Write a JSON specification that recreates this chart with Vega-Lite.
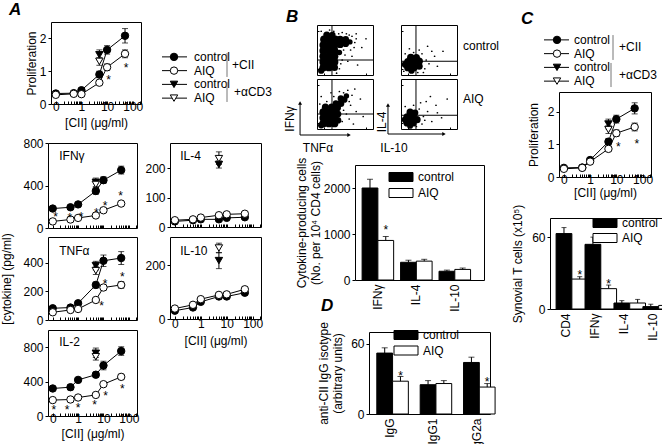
{
"$schema":"https://vega.github.io/schema/vega-lite/v6.json",
"background":"white","padding":0,"autosize":{"type":"pad"},
"data":{"values":[]},
"config":{
 "view":{"stroke":null},
 "font":"Liberation Sans",
 "axis":{"grid":false,"domain":false,"tickColor":"black","tickSize":3,"labelColor":"black","labelFontSize":12,"labelPadding":2,"labelFlush":false,"labelOverlap":false,"titleColor":"black","titleFontSize":12,"titleFontWeight":"normal","titleLineHeight":14},
 "title":{"fontSize":17,"fontWeight":"bold","fontStyle":"italic","anchor":"start","frame":"group","color":"black","baseline":"alphabetic"},
 "text":{"fontSize":12,"color":"black","baseline":"middle"},
 "legend":{"labelFontSize":12,"labelColor":"black"}
},
"resolve":{"scale":{"fill":"independent","shape":"independent","size":"independent"}},
"spacing":0,"bounds":"flush",
"hconcat":[
{"width":44,"height":1,"mark":"point","view":{"fill":"white"}},
{"spacing":0,"bounds":"flush","vconcat":[
{"width":1,"height":138,"mark":"point"},
{"width":89,"height":85,"view":{"stroke":"black"},
"data":{"values":[{"d":0.1,"g":"cc","v":183},{"d":0.5,"g":"cc","v":195},{"d":1,"g":"cc","v":222},{"d":5,"g":"cc","v":348,"lo":318,"hi":378},{"d":10,"g":"cc","v":450,"lo":420,"hi":482},{"d":50,"g":"cc","v":545,"lo":508,"hi":582},{"d":0.1,"g":"ca","v":62},{"d":0.5,"g":"ca","v":80},{"d":1,"g":"ca","v":95},{"d":5,"g":"ca","v":118},{"d":10,"g":"ca","v":167},{"d":50,"g":"ca","v":230,"lo":215,"hi":245},{"d":5,"g":"tc","v":430,"lo":390,"hi":470},{"d":5,"g":"ta","v":410,"lo":375,"hi":445},{"d":0.13,"sy":130},{"d":0.47,"sy":125},{"d":1.3,"sy":130},{"d":5.2,"sy":165},{"d":11.7,"sy":232},{"d":47.5,"sy":325},{"d":0.18,"ly":680,"lab":"IFNγ"}]},
"encoding":{"x":{"field":"d","type":"quantitative","scale":{"type":"log","domain":[0.065,210],"nice":false},"axis":{"values":[0.1,0.2,0.3,0.4,0.5,0.6,0.7,0.8,0.9,1,2,3,4,5,6,7,8,9,10,20,30,40,50,60,70,80,90,100,200],"labels":false,"tickSize":-3,"title":null}}},
"layer":[
{"transform":[{"filter":"isValid(datum.hi)"}],"mark":{"type":"rule","color":"black"},"encoding":{"y":{"field":"lo","type":"quantitative","scale":{"domain":[0,800],"nice":false},"axis":{"values":[0,200,400,600,800],"title":null}},"y2":{"field":"hi"}}},
{"transform":[{"filter":"isValid(datum.hi)"}],"mark":{"type":"tick","orient":"horizontal","size":6,"thickness":1,"color":"black"},"encoding":{"y":{"field":"hi","type":"quantitative","scale":{"domain":[0,800],"nice":false}}}},
{"transform":[{"filter":"isValid(datum.hi)"}],"mark":{"type":"tick","orient":"horizontal","size":6,"thickness":1,"color":"black"},"encoding":{"y":{"field":"lo","type":"quantitative","scale":{"domain":[0,800],"nice":false}}}},
{"transform":[{"filter":"datum.g=='cc'||datum.g=='ca'"}],"mark":{"type":"line","color":"black","strokeWidth":1},"encoding":{"y":{"field":"v","type":"quantitative","scale":{"domain":[0,800],"nice":false}},"detail":{"field":"g"}}},
{"transform":[{"filter":"isValid(datum.v)"}],"mark":{"type":"point","filled":true,"size":55,"stroke":"black","strokeWidth":1,"opacity":1},"encoding":{"y":{"field":"v","type":"quantitative","scale":{"domain":[0,800],"nice":false}},"shape":{"field":"g","type":"nominal","scale":{"domain":["cc","ca","tc","ta"],"range":["circle","circle","triangle-down","triangle-down"]},"legend":null},"fill":{"field":"g","type":"nominal","scale":{"domain":["cc","ca","tc","ta"],"range":["black","white","black","white"]},"legend":null}}},
{"transform":[{"filter":"isValid(datum.sy)"}],"mark":{"type":"text","text":"*","dy":3},"encoding":{"y":{"field":"sy","type":"quantitative","scale":{"domain":[0,800],"nice":false}}}},
{"transform":[{"filter":"isValid(datum.lab)"}],"mark":{"type":"text","align":"left"},"encoding":{"y":{"field":"ly","type":"quantitative","scale":{"domain":[0,800],"nice":false}},"text":{"field":"lab"}}}
]},
{"width":1,"height":9,"mark":"point"},
{"width":89,"height":83,"view":{"stroke":"black"},
"data":{"values":[{"d":0.1,"g":"cc","v":82},{"d":0.5,"g":"cc","v":87},{"d":1,"g":"cc","v":117},{"d":5,"g":"cc","v":245,"lo":225,"hi":265},{"d":10,"g":"cc","v":414,"lo":374,"hi":454},{"d":50,"g":"cc","v":433,"lo":388,"hi":478},{"d":0.1,"g":"ca","v":54},{"d":0.5,"g":"ca","v":70},{"d":1,"g":"ca","v":77},{"d":5,"g":"ca","v":140},{"d":10,"g":"ca","v":227,"lo":210,"hi":244},{"d":50,"g":"ca","v":245,"lo":222,"hi":268},{"d":5,"g":"tc","v":380,"lo":350,"hi":410},{"d":5,"g":"ta","v":345,"lo":318,"hi":372},{"d":8.5,"sy":120},{"d":11.7,"sy":275},{"d":55,"sy":320},{"d":0.18,"ly":480,"lab":"TNFα"}]},
"encoding":{"x":{"field":"d","type":"quantitative","scale":{"type":"log","domain":[0.065,210],"nice":false},"axis":{"values":[0.1,0.2,0.3,0.4,0.5,0.6,0.7,0.8,0.9,1,2,3,4,5,6,7,8,9,10,20,30,40,50,60,70,80,90,100,200],"labels":false,"tickSize":-3,"title":null}}},
"layer":[
{"transform":[{"filter":"isValid(datum.hi)"}],"mark":{"type":"rule","color":"black"},"encoding":{"y":{"field":"lo","type":"quantitative","scale":{"domain":[0,580],"nice":false},"axis":{"values":[0,200,400],"title":"[cytokine] (pg/ml)","titlePadding":9}},"y2":{"field":"hi"}}},
{"transform":[{"filter":"isValid(datum.hi)"}],"mark":{"type":"tick","orient":"horizontal","size":6,"thickness":1,"color":"black"},"encoding":{"y":{"field":"hi","type":"quantitative","scale":{"domain":[0,580],"nice":false}}}},
{"transform":[{"filter":"isValid(datum.hi)"}],"mark":{"type":"tick","orient":"horizontal","size":6,"thickness":1,"color":"black"},"encoding":{"y":{"field":"lo","type":"quantitative","scale":{"domain":[0,580],"nice":false}}}},
{"transform":[{"filter":"datum.g=='cc'||datum.g=='ca'"}],"mark":{"type":"line","color":"black","strokeWidth":1},"encoding":{"y":{"field":"v","type":"quantitative","scale":{"domain":[0,580],"nice":false}},"detail":{"field":"g"}}},
{"transform":[{"filter":"isValid(datum.v)"}],"mark":{"type":"point","filled":true,"size":55,"stroke":"black","strokeWidth":1,"opacity":1},"encoding":{"y":{"field":"v","type":"quantitative","scale":{"domain":[0,580],"nice":false}},"shape":{"field":"g","type":"nominal","scale":{"domain":["cc","ca","tc","ta"],"range":["circle","circle","triangle-down","triangle-down"]},"legend":null},"fill":{"field":"g","type":"nominal","scale":{"domain":["cc","ca","tc","ta"],"range":["black","white","black","white"]},"legend":null}}},
{"transform":[{"filter":"isValid(datum.sy)"}],"mark":{"type":"text","text":"*","dy":3},"encoding":{"y":{"field":"sy","type":"quantitative","scale":{"domain":[0,580],"nice":false}}}},
{"transform":[{"filter":"isValid(datum.lab)"}],"mark":{"type":"text","align":"left"},"encoding":{"y":{"field":"ly","type":"quantitative","scale":{"domain":[0,580],"nice":false}},"text":{"field":"lab"}}}
]},
{"width":1,"height":10,"mark":"point"},
{"width":89,"height":86,"view":{"stroke":"black"},
"data":{"values":[{"d":0.1,"g":"cc","v":320,"lo":295,"hi":345},{"d":0.5,"g":"cc","v":335,"lo":305,"hi":365},{"d":1,"g":"cc","v":420,"lo":400,"hi":440},{"d":5,"g":"cc","v":480,"lo":450,"hi":510},{"d":10,"g":"cc","v":587,"lo":537,"hi":637},{"d":50,"g":"cc","v":755,"lo":705,"hi":805},{"d":0.1,"g":"ca","v":185},{"d":0.5,"g":"ca","v":192},{"d":1,"g":"ca","v":215},{"d":5,"g":"ca","v":245,"lo":225,"hi":265},{"d":10,"g":"ca","v":370,"lo":350,"hi":390},{"d":50,"g":"ca","v":455,"lo":425,"hi":485},{"d":5,"g":"tc","v":730,"lo":680,"hi":790},{"d":5,"g":"ta","v":690,"lo":650,"hi":730},{"d":0.11,"sy":100},{"d":0.37,"sy":100},{"d":0.99,"sy":128},{"d":4.5,"sy":158},{"d":12.2,"sy":265},{"d":55,"sy":345},{"d":0.18,"ly":860,"lab":"IL-2"}]},
"encoding":{"x":{"field":"d","type":"quantitative","scale":{"type":"log","domain":[0.065,210],"nice":false},"axis":{"values":[0.1,0.2,0.3,0.4,0.5,0.6,0.7,0.8,0.9,1,2,3,4,5,6,7,8,9,10,20,30,40,50,60,70,80,90,100,200],"labelExpr":"datum.value==0.1?'0':datum.value==1?'1':datum.value==10?'10':datum.value==100?'100':''","tickSize":-3,"labelPadding":0,"title":"[CII] (μg/ml)","titlePadding":4}}},
"layer":[
{"transform":[{"filter":"isValid(datum.hi)"}],"mark":{"type":"rule","color":"black"},"encoding":{"y":{"field":"lo","type":"quantitative","scale":{"domain":[0,1000],"nice":false},"axis":{"values":[0,200,400,600,800],"title":null}},"y2":{"field":"hi"}}},
{"transform":[{"filter":"isValid(datum.hi)"}],"mark":{"type":"tick","orient":"horizontal","size":6,"thickness":1,"color":"black"},"encoding":{"y":{"field":"hi","type":"quantitative","scale":{"domain":[0,1000],"nice":false}}}},
{"transform":[{"filter":"isValid(datum.hi)"}],"mark":{"type":"tick","orient":"horizontal","size":6,"thickness":1,"color":"black"},"encoding":{"y":{"field":"lo","type":"quantitative","scale":{"domain":[0,1000],"nice":false}}}},
{"transform":[{"filter":"datum.g=='cc'||datum.g=='ca'"}],"mark":{"type":"line","color":"black","strokeWidth":1},"encoding":{"y":{"field":"v","type":"quantitative","scale":{"domain":[0,1000],"nice":false}},"detail":{"field":"g"}}},
{"transform":[{"filter":"isValid(datum.v)"}],"mark":{"type":"point","filled":true,"size":55,"stroke":"black","strokeWidth":1,"opacity":1},"encoding":{"y":{"field":"v","type":"quantitative","scale":{"domain":[0,1000],"nice":false}},"shape":{"field":"g","type":"nominal","scale":{"domain":["cc","ca","tc","ta"],"range":["circle","circle","triangle-down","triangle-down"]},"legend":null},"fill":{"field":"g","type":"nominal","scale":{"domain":["cc","ca","tc","ta"],"range":["black","white","black","white"]},"legend":null}}},
{"transform":[{"filter":"isValid(datum.sy)"}],"mark":{"type":"text","text":"*","dy":3},"encoding":{"y":{"field":"sy","type":"quantitative","scale":{"domain":[0,1000],"nice":false}}}},
{"transform":[{"filter":"isValid(datum.lab)"}],"mark":{"type":"text","align":"left"},"encoding":{"y":{"field":"ly","type":"quantitative","scale":{"domain":[0,1000],"nice":false}},"text":{"field":"lab"}}}
]}
]},
{"width":3,"height":1,"mark":"point"},
{"spacing":0,"bounds":"flush","vconcat":[
{"width":1,"height":17,"mark":"point"},
{"width":90,"height":82,"view":{"stroke":"black"},"title":{"text":"A","dx":-42,"offset":3},
"data":{"values":[{"d":0.1,"g":"cc","v":0.32},{"d":0.5,"g":"cc","v":0.33},{"d":1,"g":"cc","v":0.42,"lo":0.37,"hi":0.47},{"d":5,"g":"cc","v":0.9,"lo":0.8,"hi":1.0},{"d":10,"g":"cc","v":1.65,"lo":1.52,"hi":1.78},{"d":50,"g":"cc","v":2.08,"lo":1.86,"hi":2.3},{"d":0.1,"g":"ca","v":0.28},{"d":0.5,"g":"ca","v":0.31},{"d":1,"g":"ca","v":0.3},{"d":5,"g":"ca","v":0.65,"lo":0.6,"hi":0.7},{"d":10,"g":"ca","v":1.12,"lo":1.02,"hi":1.22},{"d":50,"g":"ca","v":1.53,"lo":1.41,"hi":1.65},{"d":5,"g":"tc","v":1.5,"lo":1.35,"hi":1.65},{"d":5,"g":"ta","v":1.3,"lo":1.18,"hi":1.42},{"d":11.5,"sy":0.82},{"d":55,"sy":1.2}]},
"encoding":{"x":{"field":"d","type":"quantitative","scale":{"type":"log","domain":[0.065,210],"nice":false},"axis":{"values":[0.1,0.2,0.3,0.4,0.5,0.6,0.7,0.8,0.9,1,2,3,4,5,6,7,8,9,10,20,30,40,50,60,70,80,90,100,200],"labelExpr":"datum.value==0.1?'0':datum.value==1?'1':datum.value==10?'10':datum.value==100?'100':''","tickSize":-3,"labelPadding":0,"title":"[CII] (μg/ml)","titlePadding":5}}},
"layer":[
{"transform":[{"filter":"isValid(datum.hi)"}],"mark":{"type":"rule","color":"black"},"encoding":{"y":{"field":"lo","type":"quantitative","scale":{"domain":[0,2.5],"nice":false},"axis":{"values":[0,1,2],"title":"Proliferation","titlePadding":1}},"y2":{"field":"hi"}}},
{"transform":[{"filter":"isValid(datum.hi)"}],"mark":{"type":"tick","orient":"horizontal","size":6,"thickness":1,"color":"black"},"encoding":{"y":{"field":"hi","type":"quantitative","scale":{"domain":[0,2.5],"nice":false}}}},
{"transform":[{"filter":"isValid(datum.hi)"}],"mark":{"type":"tick","orient":"horizontal","size":6,"thickness":1,"color":"black"},"encoding":{"y":{"field":"lo","type":"quantitative","scale":{"domain":[0,2.5],"nice":false}}}},
{"transform":[{"filter":"datum.g=='cc'||datum.g=='ca'"}],"mark":{"type":"line","color":"black","strokeWidth":1},"encoding":{"y":{"field":"v","type":"quantitative","scale":{"domain":[0,2.5],"nice":false}},"detail":{"field":"g"}}},
{"transform":[{"filter":"isValid(datum.v)"}],"mark":{"type":"point","filled":true,"size":55,"stroke":"black","strokeWidth":1,"opacity":1},"encoding":{"y":{"field":"v","type":"quantitative","scale":{"domain":[0,2.5],"nice":false}},"shape":{"field":"g","type":"nominal","scale":{"domain":["cc","ca","tc","ta"],"range":["circle","circle","triangle-down","triangle-down"]},"legend":null},"fill":{"field":"g","type":"nominal","scale":{"domain":["cc","ca","tc","ta"],"range":["black","white","black","white"]},"legend":null}}},
{"transform":[{"filter":"isValid(datum.sy)"}],"mark":{"type":"text","text":"*","dy":3},"encoding":{"y":{"field":"sy","type":"quantitative","scale":{"domain":[0,2.5],"nice":false}}}}
]}
]},
{"width":108,"height":1,"mark":"point"},
{"spacing":0,"bounds":"flush","vconcat":[
{"width":1,"height":45,"mark":"point"},
{"width":105,"height":55,
"data":{"values":[{"r":0,"g":"cc","lab":"control"},{"r":1,"g":"ca","lab":"AIQ"},{"r":2,"g":"tc","lab":"control"},{"r":3,"g":"ta","lab":"AIQ"}]},
"layer":[
{"mark":{"type":"rule","color":"black"},"encoding":{"x":{"datum":0.3,"type":"quantitative","scale":{"domain":[0,10.5],"nice":false,"zero":false},"axis":null},"x2":{"datum":2.8},"y":{"field":"r","type":"quantitative","scale":{"domain":[-0.5,3.5],"nice":false,"zero":false,"reverse":true},"axis":null}}},
{"mark":{"type":"point","filled":true,"size":55,"stroke":"black","strokeWidth":1,"opacity":1},"encoding":{"x":{"datum":1.5,"type":"quantitative","scale":{"domain":[0,10.5],"nice":false,"zero":false},"axis":null},"y":{"field":"r","type":"quantitative","scale":{"domain":[-0.5,3.5],"nice":false,"zero":false,"reverse":true},"axis":null},"shape":{"field":"g","type":"nominal","scale":{"domain":["cc","ca","tc","ta"],"range":["circle","circle","triangle-down","triangle-down"]},"legend":null},"fill":{"field":"g","type":"nominal","scale":{"domain":["cc","ca","tc","ta"],"range":["black","white","black","white"]},"legend":null}}},
{"mark":{"type":"text","align":"left"},"encoding":{"x":{"datum":3.5,"type":"quantitative","scale":{"domain":[0,10.5],"nice":false,"zero":false},"axis":null},"y":{"field":"r","type":"quantitative","scale":{"domain":[-0.5,3.5],"nice":false,"zero":false,"reverse":true},"axis":null},"text":{"field":"lab"}}},
{"data":{"values":[{}]},"mark":{"type":"rule","color":"#777"},"encoding":{"x":{"datum":6.8,"type":"quantitative","scale":{"domain":[0,10.5],"nice":false,"zero":false},"axis":null},"y":{"datum":-0.28,"type":"quantitative","scale":{"domain":[-0.5,3.5],"nice":false,"zero":false,"reverse":true},"axis":null},"y2":{"datum":1.46}}},
{"data":{"values":[{}]},"mark":{"type":"rule","color":"#777"},"encoding":{"x":{"datum":6.8,"type":"quantitative","scale":{"domain":[0,10.5],"nice":false,"zero":false},"axis":null},"y":{"datum":1.83,"type":"quantitative","scale":{"domain":[-0.5,3.5],"nice":false,"zero":false,"reverse":true},"axis":null},"y2":{"datum":3.28}}},
{"data":{"values":[{}]},"mark":{"type":"text","align":"left","text":"+CII"},"encoding":{"x":{"datum":7.3,"type":"quantitative","scale":{"domain":[0,10.5],"nice":false,"zero":false},"axis":null},"y":{"datum":0.59,"type":"quantitative","scale":{"domain":[-0.5,3.5],"nice":false,"zero":false,"reverse":true},"axis":null}}},
{"data":{"values":[{}]},"mark":{"type":"text","align":"left","text":"+αCD3"},"encoding":{"x":{"datum":7.5,"type":"quantitative","scale":{"domain":[0,10.5],"nice":false,"zero":false},"axis":null},"y":{"datum":2.55,"type":"quantitative","scale":{"domain":[-0.5,3.5],"nice":false,"zero":false,"reverse":true},"axis":null}}}
]}
]},
{"width":11,"height":1,"mark":"point"},
{"spacing":0,"bounds":"flush","vconcat":[
{"width":1,"height":138,"mark":"point"},
{"width":91,"height":84,"view":{"stroke":"black"},
"data":{"values":[{"d":0.1,"g":"cc","v":19},{"d":0.5,"g":"cc","v":23},{"d":1,"g":"cc","v":26},{"d":5,"g":"cc","v":26,"lo":21,"hi":31},{"d":10,"g":"cc","v":31,"lo":26,"hi":36},{"d":50,"g":"cc","v":33,"lo":28,"hi":38},{"d":0.1,"g":"ca","v":23},{"d":0.5,"g":"ca","v":26},{"d":1,"g":"ca","v":32},{"d":5,"g":"ca","v":40,"lo":35,"hi":45},{"d":10,"g":"ca","v":43,"lo":38,"hi":48},{"d":50,"g":"ca","v":45,"lo":40,"hi":50},{"d":5,"g":"tc","v":212,"lo":200,"hi":224},{"d":5,"g":"ta","v":232,"lo":212,"hi":255},{"d":0.16,"ly":241,"lab":"IL-4"}]},
"encoding":{"x":{"field":"d","type":"quantitative","scale":{"type":"log","domain":[0.065,210],"nice":false},"axis":{"values":[0.1,0.2,0.3,0.4,0.5,0.6,0.7,0.8,0.9,1,2,3,4,5,6,7,8,9,10,20,30,40,50,60,70,80,90,100,200],"labels":false,"tickSize":-3,"title":null}}},
"layer":[
{"transform":[{"filter":"isValid(datum.hi)"}],"mark":{"type":"rule","color":"black"},"encoding":{"y":{"field":"lo","type":"quantitative","scale":{"domain":[0,285],"nice":false},"axis":{"values":[0,100,200],"title":null}},"y2":{"field":"hi"}}},
{"transform":[{"filter":"isValid(datum.hi)"}],"mark":{"type":"tick","orient":"horizontal","size":6,"thickness":1,"color":"black"},"encoding":{"y":{"field":"hi","type":"quantitative","scale":{"domain":[0,285],"nice":false}}}},
{"transform":[{"filter":"isValid(datum.hi)"}],"mark":{"type":"tick","orient":"horizontal","size":6,"thickness":1,"color":"black"},"encoding":{"y":{"field":"lo","type":"quantitative","scale":{"domain":[0,285],"nice":false}}}},
{"transform":[{"filter":"datum.g=='cc'||datum.g=='ca'"}],"mark":{"type":"line","color":"black","strokeWidth":1},"encoding":{"y":{"field":"v","type":"quantitative","scale":{"domain":[0,285],"nice":false}},"detail":{"field":"g"}}},
{"transform":[{"filter":"isValid(datum.v)"}],"mark":{"type":"point","filled":true,"size":55,"stroke":"black","strokeWidth":1,"opacity":1},"encoding":{"y":{"field":"v","type":"quantitative","scale":{"domain":[0,285],"nice":false}},"shape":{"field":"g","type":"nominal","scale":{"domain":["cc","ca","tc","ta"],"range":["circle","circle","triangle-down","triangle-down"]},"legend":null},"fill":{"field":"g","type":"nominal","scale":{"domain":["cc","ca","tc","ta"],"range":["black","white","black","white"]},"legend":null}}},
{"transform":[{"filter":"isValid(datum.lab)"}],"mark":{"type":"text","align":"left"},"encoding":{"y":{"field":"ly","type":"quantitative","scale":{"domain":[0,285],"nice":false}},"text":{"field":"lab"}}}
]},
{"width":1,"height":10,"mark":"point"},
{"width":91,"height":82,"view":{"stroke":"black"},
"data":{"values":[{"d":0.1,"g":"cc","v":31},{"d":0.5,"g":"cc","v":43},{"d":1,"g":"cc","v":64},{"d":5,"g":"cc","v":84,"lo":76,"hi":92},{"d":10,"g":"cc","v":84,"lo":76,"hi":92},{"d":50,"g":"cc","v":98,"lo":90,"hi":106},{"d":0.1,"g":"ca","v":39},{"d":0.5,"g":"ca","v":53},{"d":1,"g":"ca","v":74},{"d":5,"g":"ca","v":90,"lo":82,"hi":98},{"d":10,"g":"ca","v":92,"lo":84,"hi":100},{"d":50,"g":"ca","v":111,"lo":101,"hi":121},{"d":5,"g":"tc","v":218,"lo":188,"hi":248},{"d":5,"g":"ta","v":265,"lo":247,"hi":283},{"d":0.16,"ly":254,"lab":"IL-10"}]},
"encoding":{"x":{"field":"d","type":"quantitative","scale":{"type":"log","domain":[0.065,210],"nice":false},"axis":{"values":[0.1,0.2,0.3,0.4,0.5,0.6,0.7,0.8,0.9,1,2,3,4,5,6,7,8,9,10,20,30,40,50,60,70,80,90,100,200],"labelExpr":"datum.value==0.1?'0':datum.value==1?'1':datum.value==10?'10':datum.value==100?'100':''","tickSize":-3,"labelPadding":2,"title":"[CII] (μg/ml)","titlePadding":6}}},
"layer":[
{"transform":[{"filter":"isValid(datum.hi)"}],"mark":{"type":"rule","color":"black"},"encoding":{"y":{"field":"lo","type":"quantitative","scale":{"domain":[0,306],"nice":false},"axis":{"values":[0,200],"title":null}},"y2":{"field":"hi"}}},
{"transform":[{"filter":"isValid(datum.hi)"}],"mark":{"type":"tick","orient":"horizontal","size":6,"thickness":1,"color":"black"},"encoding":{"y":{"field":"hi","type":"quantitative","scale":{"domain":[0,306],"nice":false}}}},
{"transform":[{"filter":"isValid(datum.hi)"}],"mark":{"type":"tick","orient":"horizontal","size":6,"thickness":1,"color":"black"},"encoding":{"y":{"field":"lo","type":"quantitative","scale":{"domain":[0,306],"nice":false}}}},
{"transform":[{"filter":"datum.g=='cc'||datum.g=='ca'"}],"mark":{"type":"line","color":"black","strokeWidth":1},"encoding":{"y":{"field":"v","type":"quantitative","scale":{"domain":[0,306],"nice":false}},"detail":{"field":"g"}}},
{"transform":[{"filter":"isValid(datum.v)"}],"mark":{"type":"point","filled":true,"size":55,"stroke":"black","strokeWidth":1,"opacity":1},"encoding":{"y":{"field":"v","type":"quantitative","scale":{"domain":[0,306],"nice":false}},"shape":{"field":"g","type":"nominal","scale":{"domain":["cc","ca","tc","ta"],"range":["circle","circle","triangle-down","triangle-down"]},"legend":null},"fill":{"field":"g","type":"nominal","scale":{"domain":["cc","ca","tc","ta"],"range":["black","white","black","white"]},"legend":null}}},
{"transform":[{"filter":"isValid(datum.lab)"}],"mark":{"type":"text","align":"left"},"encoding":{"y":{"field":"ly","type":"quantitative","scale":{"domain":[0,306],"nice":false}},"text":{"field":"lab"}}}
]}
]},
{"width":147,"height":1,"mark":"point"},
{"spacing":0,"bounds":"flush","vconcat":[
{"width":1,"height":20,"mark":"point"},
{"width":56,"height":50,"view":{"stroke":"black"},"title":{"text":"B","dx":-31,"offset":-1},
"data":{"values":[{"x":0.45,"y":0.6,"s":60},{"x":0.85,"y":0.6,"s":60},{"x":1.25,"y":0.6,"s":50},{"x":0.45,"y":1.05,"s":60},{"x":0.85,"y":1.05,"s":60},{"x":1.25,"y":1.05,"s":60},{"x":0.45,"y":1.5,"s":60},{"x":0.85,"y":1.5,"s":60},{"x":1.25,"y":1.5,"s":60},{"x":0.45,"y":1.95,"s":60},{"x":0.85,"y":1.95,"s":60},{"x":1.25,"y":1.95,"s":60},{"x":0.45,"y":2.4,"s":60},{"x":0.85,"y":2.4,"s":60},{"x":1.25,"y":2.4,"s":60},{"x":0.5,"y":2.85,"s":60},{"x":0.9,"y":2.85,"s":60},{"x":1.3,"y":2.85,"s":60},{"x":0.7,"y":3.2,"s":50},{"x":1.1,"y":3.2,"s":40},{"x":1.65,"y":2.45,"s":55},{"x":1.65,"y":2.85,"s":55},{"x":2.05,"y":2.5,"s":45},{"x":2.05,"y":2.85,"s":45},{"x":2.35,"y":2.65,"s":30},{"x":0.3,"y":0.35,"s":40},{"x":1.6,"y":1.8,"s":30},
{"x":1.6,"y":0.5,"s":3},{"x":1.8,"y":1.2,"s":3},{"x":2.0,"y":1.6,"s":3},{"x":2.4,"y":2.0,"s":3},{"x":2.7,"y":2.6,"s":3},{"x":2.5,"y":3.1,"s":3},{"x":1.8,"y":3.4,"s":3},{"x":1.2,"y":3.5,"s":3},{"x":0.3,"y":3.5,"s":3},{"x":2.2,"y":1.1,"s":3},{"x":2.8,"y":3.3,"s":3},{"x":3.2,"y":2.2,"s":3},{"x":2.9,"y":0.8,"s":3},{"x":1.4,"y":0.15,"s":3},{"x":1.9,"y":2.0,"s":3},{"x":2.5,"y":1.5,"s":3},{"x":3.5,"y":2.9,"s":3},{"x":0.9,"y":3.6,"s":3},{"x":2.65,"y":2.2,"s":3},{"x":2.3,"y":3.2,"s":3},{"x":1.7,"y":0.9,"s":3},{"x":2.1,"y":3.3,"s":3},{"x":1.55,"y":3.3,"s":3},{"x":2.8,"y":2.9,"s":3}]},
"layer":[
{"mark":{"type":"point","filled":true,"color":"black","opacity":1,"strokeWidth":0},"encoding":{"x":{"field":"x","type":"quantitative","scale":{"domain":[0,4],"nice":false,"zero":false},"axis":{"values":[0.5,1,1.5,2,2.5,3,3.5],"labels":false,"tickSize":-2,"title":null}},"y":{"field":"y","type":"quantitative","scale":{"domain":[0,4],"nice":false,"zero":false},"axis":{"values":[0.5,1,1.5,2,2.5,3,3.5],"labels":false,"tickSize":-2,"title":null}},"size":{"field":"s","type":"quantitative","scale":null,"legend":null}}},
{"data":{"values":[{}]},"mark":{"type":"rule","color":"black"},"encoding":{"x":{"datum":1.07,"type":"quantitative","scale":{"domain":[0,4],"nice":false,"zero":false}}}},
{"data":{"values":[{}]},"mark":{"type":"rule","color":"black"},"encoding":{"y":{"datum":1.2,"type":"quantitative","scale":{"domain":[0,4],"nice":false,"zero":false}}}}
]},
{"width":1,"height":4,"mark":"point"},
{"width":56,"height":50,"view":{"stroke":"black"},
"data":{"values":[{"x":0.45,"y":0.45,"s":60},{"x":0.85,"y":0.45,"s":60},{"x":1.25,"y":0.45,"s":60},{"x":0.45,"y":0.9,"s":60},{"x":0.85,"y":0.9,"s":60},{"x":1.25,"y":0.9,"s":60},{"x":0.45,"y":1.35,"s":60},{"x":0.85,"y":1.35,"s":60},{"x":1.25,"y":1.35,"s":60},{"x":1.5,"y":0.7,"s":45},{"x":1.5,"y":1.2,"s":45},{"x":0.6,"y":1.75,"s":50},{"x":1.05,"y":1.75,"s":55},{"x":1.45,"y":1.7,"s":55},{"x":1.7,"y":2.05,"s":50},{"x":1.95,"y":2.35,"s":40},{"x":1.7,"y":2.45,"s":40},{"x":2.1,"y":2.65,"s":30},{"x":1.35,"y":2.05,"s":40},{"x":0.3,"y":0.3,"s":40},
{"x":1.8,"y":0.6,"s":3},{"x":2.1,"y":1.2,"s":3},{"x":2.4,"y":1.9,"s":3},{"x":2.5,"y":2.7,"s":3},{"x":2.2,"y":3.1,"s":3},{"x":1.6,"y":3.0,"s":3},{"x":1.2,"y":2.6,"s":3},{"x":0.7,"y":2.2,"s":3},{"x":0.2,"y":2.0,"s":3},{"x":2.8,"y":1.4,"s":3},{"x":2.6,"y":0.4,"s":3},{"x":1.9,"y":1.5,"s":3},{"x":3.1,"y":2.4,"s":3},{"x":1.0,"y":2.9,"s":3},{"x":2.3,"y":0.8,"s":3},{"x":3.3,"y":1.0,"s":3},{"x":2.7,"y":3.2,"s":3},{"x":0.3,"y":2.6,"s":3},{"x":2.3,"y":2.2,"s":3},{"x":1.9,"y":2.9,"s":3}]},
"layer":[
{"mark":{"type":"point","filled":true,"color":"black","opacity":1,"strokeWidth":0},"encoding":{"x":{"field":"x","type":"quantitative","scale":{"domain":[0,4],"nice":false,"zero":false},"axis":{"values":[0.5,1,1.5,2,2.5,3,3.5],"labels":false,"tickSize":-2,"title":null}},"y":{"field":"y","type":"quantitative","scale":{"domain":[0,4],"nice":false,"zero":false},"axis":{"values":[0.5,1,1.5,2,2.5,3,3.5],"labels":false,"tickSize":-2,"title":null}},"size":{"field":"s","type":"quantitative","scale":null,"legend":null}}},
{"data":{"values":[{}]},"mark":{"type":"rule","color":"black"},"encoding":{"x":{"datum":1.07,"type":"quantitative","scale":{"domain":[0,4],"nice":false,"zero":false}}}},
{"data":{"values":[{}]},"mark":{"type":"rule","color":"black"},"encoding":{"y":{"datum":1.2,"type":"quantitative","scale":{"domain":[0,4],"nice":false,"zero":false}}}},
{"data":{"values":[{}]},"mark":{"type":"rule","color":"black"},"encoding":{"x":{"datum":-1.21,"type":"quantitative","scale":{"domain":[0,4],"nice":false,"zero":false}},"y":{"datum":-0.48,"type":"quantitative","scale":{"domain":[0,4],"nice":false,"zero":false}},"y2":{"datum":2.08}}},
{"data":{"values":[{}]},"mark":{"type":"rule","color":"black"},"encoding":{"x":{"datum":-1.21,"type":"quantitative","scale":{"domain":[0,4],"nice":false,"zero":false}},"x2":{"datum":2.29},"y":{"datum":-0.48,"type":"quantitative","scale":{"domain":[0,4],"nice":false,"zero":false}}}},
{"data":{"values":[{}]},"mark":{"type":"point","shape":"triangle-up","filled":true,"color":"black","size":16,"opacity":1},"encoding":{"x":{"datum":-1.21,"type":"quantitative","scale":{"domain":[0,4],"nice":false,"zero":false}},"y":{"datum":2.08,"type":"quantitative","scale":{"domain":[0,4],"nice":false,"zero":false}}}},
{"data":{"values":[{}]},"mark":{"type":"point","shape":"triangle-right","filled":true,"color":"black","size":16,"opacity":1},"encoding":{"x":{"datum":2.29,"type":"quantitative","scale":{"domain":[0,4],"nice":false,"zero":false}},"y":{"datum":-0.48,"type":"quantitative","scale":{"domain":[0,4],"nice":false,"zero":false}}}},
{"data":{"values":[{}]},"mark":{"type":"text","text":"IFNγ","angle":270},"encoding":{"x":{"datum":-1.93,"type":"quantitative","scale":{"domain":[0,4],"nice":false,"zero":false}},"y":{"datum":0.8,"type":"quantitative","scale":{"domain":[0,4],"nice":false,"zero":false}}}},
{"data":{"values":[{}]},"mark":{"type":"text","text":"TNFα"},"encoding":{"x":{"datum":0.07,"type":"quantitative","scale":{"domain":[0,4],"nice":false,"zero":false}},"y":{"datum":-1.52,"type":"quantitative","scale":{"domain":[0,4],"nice":false,"zero":false}}}}
]}
]},
{"width":38,"height":1,"mark":"point"},
{"spacing":0,"bounds":"flush","vconcat":[
{"width":1,"height":160,"mark":"point"},
{"width":129,"height":115,"view":{"stroke":"black"},
"data":{"values":[{"c":"IFNγ","g":"control","v":2000,"hi":2190},{"c":"IFNγ","g":"AIQ","v":860,"hi":946,"sy":1150},{"c":"IL-4","g":"control","v":385,"hi":430},{"c":"IL-4","g":"AIQ","v":410,"hi":450},{"c":"IL-10","g":"control","v":190,"hi":215},{"c":"IL-10","g":"AIQ","v":230,"hi":260}]},
"encoding":{"x":{"field":"c","type":"nominal","sort":["IFNγ","IL-4","IL-10"],"scale":{"paddingInner":0.18,"paddingOuter":0.267,"align":0.346},"axis":{"labelAngle":-90,"title":null,"ticks":false,"labelPadding":4}},"xOffset":{"field":"g","type":"nominal","sort":["control","AIQ"],"scale":{"paddingInner":0,"paddingOuter":0}}},
"layer":[
{"mark":{"type":"bar","stroke":"black","strokeWidth":1},"encoding":{"y":{"field":"v","type":"quantitative","scale":{"domain":[0,2500],"nice":false},"axis":{"values":[0,1000,2000],"format":"d","title":["Cytokine-producing cells","(No. per 10⁴ CD4 cells)"],"titlePadding":1}},"fill":{"field":"g","type":"nominal","sort":["control","AIQ"],"scale":{"domain":["control","AIQ"],"range":["black","white"]},"legend":{"orient":"none","legendX":40,"legendY":166,"title":null,"symbolType":"M-2.4,-0.9H2.4V0.9H-2.4Z","symbolSize":100,"symbolStrokeColor":"black","symbolStrokeWidth":1,"padding":0,"rowPadding":2,"labelOffset":11}}}},
{"mark":{"type":"rule","color":"black"},"encoding":{"y":{"field":"v","type":"quantitative","scale":{"domain":[0,2500],"nice":false}},"y2":{"field":"hi"}}},
{"mark":{"type":"tick","orient":"horizontal","size":6,"thickness":1,"color":"black"},"encoding":{"y":{"field":"hi","type":"quantitative","scale":{"domain":[0,2500],"nice":false}}}},
{"transform":[{"filter":"isValid(datum.sy)"}],"mark":{"type":"text","text":"*","dy":3},"encoding":{"y":{"field":"sy","type":"quantitative","scale":{"domain":[0,2500],"nice":false}}}}
]}
]},
{"width":14,"height":1,"mark":"point"},
{"spacing":0,"bounds":"flush","vconcat":[
{"width":1,"height":327,"mark":"point"},
{"width":121,"height":82,"view":{"stroke":"black"},"title":{"text":"D","dx":-48,"offset":7},
"data":{"values":[{"c":"IgG","g":"control","v":52,"hi":56.5},{"c":"IgG","g":"AIQ","v":28,"hi":32,"sy":35},{"c":"IgG1","g":"control","v":25,"hi":28.5},{"c":"IgG1","g":"AIQ","v":26,"hi":28.5},{"c":"IgG2a","g":"control","v":44,"hi":48.5},{"c":"IgG2a","g":"AIQ","v":23,"hi":26,"sy":30}]},
"encoding":{"x":{"field":"c","type":"nominal","sort":["IgG","IgG1","IgG2a"],"scale":{"paddingInner":0.39,"paddingOuter":0.09,"align":1},"axis":{"labelAngle":-90,"title":null,"ticks":false,"labelPadding":4}},"xOffset":{"field":"g","type":"nominal","sort":["control","AIQ"],"scale":{"paddingInner":0,"paddingOuter":0}}},
"layer":[
{"mark":{"type":"bar","stroke":"black","strokeWidth":1},"encoding":{"y":{"field":"v","type":"quantitative","scale":{"domain":[0,70],"nice":false},"axis":{"values":[0,20,40,60],"title":["anti-CII IgG isotype","(arbitrary units)"],"titlePadding":6}},"fill":{"field":"g","type":"nominal","sort":["control","AIQ"],"scale":{"domain":["control","AIQ"],"range":["black","white"]},"legend":{"orient":"none","legendX":31,"legendY":324,"title":null,"symbolType":"M-2.4,-0.9H2.4V0.9H-2.4Z","symbolSize":100,"symbolStrokeColor":"black","symbolStrokeWidth":1,"padding":0,"rowPadding":1.5,"labelOffset":11}}}},
{"mark":{"type":"rule","color":"black"},"encoding":{"y":{"field":"v","type":"quantitative","scale":{"domain":[0,70],"nice":false}},"y2":{"field":"hi"}}},
{"mark":{"type":"tick","orient":"horizontal","size":6,"thickness":1,"color":"black"},"encoding":{"y":{"field":"hi","type":"quantitative","scale":{"domain":[0,70],"nice":false}}}},
{"transform":[{"filter":"isValid(datum.sy)"}],"mark":{"type":"text","text":"*","dy":3},"encoding":{"y":{"field":"sy","type":"quantitative","scale":{"domain":[0,70],"nice":false}}}}
]}
]},
{"width":32,"height":1,"mark":"point"},
{"spacing":0,"bounds":"flush","vconcat":[
{"width":1,"height":20,"mark":"point"},
{"width":56,"height":50,"view":{"stroke":"black"},
"data":{"values":[{"x":0.5,"y":0.6,"s":60},{"x":0.9,"y":0.6,"s":60},{"x":1.3,"y":0.7,"s":50},{"x":0.5,"y":1.05,"s":60},{"x":0.9,"y":1.05,"s":60},{"x":1.3,"y":1.1,"s":55},{"x":0.7,"y":1.4,"s":55},{"x":1.1,"y":1.4,"s":50},{"x":0.3,"y":0.85,"s":45},{"x":0.75,"y":0.35,"s":40},
{"x":1.7,"y":0.5,"s":3},{"x":1.8,"y":1.2,"s":3},{"x":1.5,"y":1.7,"s":3},{"x":0.9,"y":1.8,"s":3},{"x":0.3,"y":1.7,"s":3},{"x":2.0,"y":0.9,"s":3},{"x":1.2,"y":0.2,"s":3},{"x":2.4,"y":1.5,"s":3},{"x":0.2,"y":0.3,"s":3},{"x":2.6,"y":0.7,"s":3},{"x":3.0,"y":1.9,"s":3},{"x":1.9,"y":2.3,"s":3},{"x":1.6,"y":0.2,"s":3},{"x":2.2,"y":1.9,"s":3},{"x":1.3,"y":2.0,"s":3},{"x":0.6,"y":2.1,"s":3}]},
"layer":[
{"mark":{"type":"point","filled":true,"color":"black","opacity":1,"strokeWidth":0},"encoding":{"x":{"field":"x","type":"quantitative","scale":{"domain":[0,4],"nice":false,"zero":false},"axis":{"values":[0.5,1,1.5,2,2.5,3,3.5],"labels":false,"tickSize":-2,"title":null}},"y":{"field":"y","type":"quantitative","scale":{"domain":[0,4],"nice":false,"zero":false},"axis":{"values":[0.5,1,1.5,2,2.5,3,3.5],"labels":false,"tickSize":-2,"title":null}},"size":{"field":"s","type":"quantitative","scale":null,"legend":null}}},
{"data":{"values":[{}]},"mark":{"type":"rule","color":"black"},"encoding":{"x":{"datum":1.07,"type":"quantitative","scale":{"domain":[0,4],"nice":false,"zero":false}}}},
{"data":{"values":[{}]},"mark":{"type":"rule","color":"black"},"encoding":{"y":{"datum":1.1,"type":"quantitative","scale":{"domain":[0,4],"nice":false,"zero":false}}}},
{"data":{"values":[{}]},"mark":{"type":"text","text":"control","align":"left"},"encoding":{"x":{"datum":4.43,"type":"quantitative","scale":{"domain":[0,4],"nice":false,"zero":false}},"y":{"datum":2.32,"type":"quantitative","scale":{"domain":[0,4],"nice":false,"zero":false}}}}
]},
{"width":1,"height":4,"mark":"point"},
{"width":56,"height":50,"view":{"stroke":"black"},
"data":{"values":[{"x":0.45,"y":0.5,"s":60},{"x":0.85,"y":0.5,"s":60},{"x":0.45,"y":0.95,"s":60},{"x":0.85,"y":0.95,"s":60},{"x":1.15,"y":0.75,"s":50},{"x":0.65,"y":1.35,"s":50},{"x":1.0,"y":1.3,"s":45},{"x":0.3,"y":0.75,"s":45},{"x":0.65,"y":0.25,"s":35},
{"x":1.5,"y":0.4,"s":3},{"x":1.6,"y":1.0,"s":3},{"x":1.3,"y":1.6,"s":3},{"x":0.9,"y":1.9,"s":3},{"x":0.3,"y":1.8,"s":3},{"x":1.9,"y":1.4,"s":3},{"x":2.2,"y":0.6,"s":3},{"x":1.1,"y":0.2,"s":3},{"x":2.5,"y":1.9,"s":3},{"x":2.9,"y":0.9,"s":3},{"x":3.3,"y":2.4,"s":3},{"x":1.8,"y":2.2,"s":3},{"x":1.4,"y":2.1,"s":3},{"x":2.1,"y":2.6,"s":3},{"x":1.7,"y":0.7,"s":3},{"x":2.6,"y":1.3,"s":3}]},
"layer":[
{"mark":{"type":"point","filled":true,"color":"black","opacity":1,"strokeWidth":0},"encoding":{"x":{"field":"x","type":"quantitative","scale":{"domain":[0,4],"nice":false,"zero":false},"axis":{"values":[0.5,1,1.5,2,2.5,3,3.5],"labels":false,"tickSize":-2,"title":null}},"y":{"field":"y","type":"quantitative","scale":{"domain":[0,4],"nice":false,"zero":false},"axis":{"values":[0.5,1,1.5,2,2.5,3,3.5],"labels":false,"tickSize":-2,"title":null}},"size":{"field":"s","type":"quantitative","scale":null,"legend":null}}},
{"data":{"values":[{}]},"mark":{"type":"rule","color":"black"},"encoding":{"x":{"datum":1.07,"type":"quantitative","scale":{"domain":[0,4],"nice":false,"zero":false}}}},
{"data":{"values":[{}]},"mark":{"type":"rule","color":"black"},"encoding":{"y":{"datum":1.1,"type":"quantitative","scale":{"domain":[0,4],"nice":false,"zero":false}}}},
{"data":{"values":[{}]},"mark":{"type":"rule","color":"black"},"encoding":{"x":{"datum":-0.93,"type":"quantitative","scale":{"domain":[0,4],"nice":false,"zero":false}},"y":{"datum":-0.4,"type":"quantitative","scale":{"domain":[0,4],"nice":false,"zero":false}},"y2":{"datum":1.92}}},
{"data":{"values":[{}]},"mark":{"type":"rule","color":"black"},"encoding":{"x":{"datum":-0.93,"type":"quantitative","scale":{"domain":[0,4],"nice":false,"zero":false}},"x2":{"datum":3.07},"y":{"datum":-0.4,"type":"quantitative","scale":{"domain":[0,4],"nice":false,"zero":false}}}},
{"data":{"values":[{}]},"mark":{"type":"point","shape":"triangle-up","filled":true,"color":"black","size":16,"opacity":1},"encoding":{"x":{"datum":-0.93,"type":"quantitative","scale":{"domain":[0,4],"nice":false,"zero":false}},"y":{"datum":1.92,"type":"quantitative","scale":{"domain":[0,4],"nice":false,"zero":false}}}},
{"data":{"values":[{}]},"mark":{"type":"point","shape":"triangle-right","filled":true,"color":"black","size":16,"opacity":1},"encoding":{"x":{"datum":3.07,"type":"quantitative","scale":{"domain":[0,4],"nice":false,"zero":false}},"y":{"datum":-0.4,"type":"quantitative","scale":{"domain":[0,4],"nice":false,"zero":false}}}},
{"data":{"values":[{}]},"mark":{"type":"text","text":"IL-4","angle":270},"encoding":{"x":{"datum":-1.36,"type":"quantitative","scale":{"domain":[0,4],"nice":false,"zero":false}},"y":{"datum":0.56,"type":"quantitative","scale":{"domain":[0,4],"nice":false,"zero":false}}}},
{"data":{"values":[{}]},"mark":{"type":"text","text":"IL-10"},"encoding":{"x":{"datum":-0.5,"type":"quantitative","scale":{"domain":[0,4],"nice":false,"zero":false}},"y":{"datum":-1.52,"type":"quantitative","scale":{"domain":[0,4],"nice":false,"zero":false}}}},
{"data":{"values":[{}]},"mark":{"type":"text","text":"AIQ","align":"left"},"encoding":{"x":{"datum":4.43,"type":"quantitative","scale":{"domain":[0,4],"nice":false,"zero":false}},"y":{"datum":2.4,"type":"quantitative","scale":{"domain":[0,4],"nice":false,"zero":false}}}}
]}
]},
{"width":138,"height":1,"mark":"point"},
{"spacing":0,"bounds":"flush","vconcat":[
{"width":1,"height":28,"mark":"point"},
{"width":125,"height":55,"title":{"text":"C","dx":-18,"offset":5},
"data":{"values":[{"r":0,"g":"cc","lab":"control"},{"r":1,"g":"ca","lab":"AIQ"},{"r":2,"g":"tc","lab":"control"},{"r":3,"g":"ta","lab":"AIQ"}]},
"layer":[
{"mark":{"type":"rule","color":"black"},"encoding":{"x":{"datum":0.5,"type":"quantitative","scale":{"domain":[0,12.5],"nice":false,"zero":false},"axis":null},"x2":{"datum":3.0},"y":{"field":"r","type":"quantitative","scale":{"domain":[-0.5,3.5],"nice":false,"zero":false,"reverse":true},"axis":null}}},
{"mark":{"type":"point","filled":true,"size":55,"stroke":"black","strokeWidth":1,"opacity":1},"encoding":{"x":{"datum":1.8,"type":"quantitative","scale":{"domain":[0,12.5],"nice":false,"zero":false},"axis":null},"y":{"field":"r","type":"quantitative","scale":{"domain":[-0.5,3.5],"nice":false,"zero":false,"reverse":true},"axis":null},"shape":{"field":"g","type":"nominal","scale":{"domain":["cc","ca","tc","ta"],"range":["circle","circle","triangle-down","triangle-down"]},"legend":null},"fill":{"field":"g","type":"nominal","scale":{"domain":["cc","ca","tc","ta"],"range":["black","white","black","white"]},"legend":null}}},
{"mark":{"type":"text","align":"left"},"encoding":{"x":{"datum":3.5,"type":"quantitative","scale":{"domain":[0,12.5],"nice":false,"zero":false},"axis":null},"y":{"field":"r","type":"quantitative","scale":{"domain":[-0.5,3.5],"nice":false,"zero":false,"reverse":true},"axis":null},"text":{"field":"lab"}}},
{"data":{"values":[{}]},"mark":{"type":"rule","color":"#777"},"encoding":{"x":{"datum":7.4,"type":"quantitative","scale":{"domain":[0,12.5],"nice":false,"zero":false},"axis":null},"y":{"datum":-0.35,"type":"quantitative","scale":{"domain":[-0.5,3.5],"nice":false,"zero":false,"reverse":true},"axis":null},"y2":{"datum":1.46}}},
{"data":{"values":[{}]},"mark":{"type":"rule","color":"#777"},"encoding":{"x":{"datum":7.2,"type":"quantitative","scale":{"domain":[0,12.5],"nice":false,"zero":false},"axis":null},"y":{"datum":1.68,"type":"quantitative","scale":{"domain":[-0.5,3.5],"nice":false,"zero":false,"reverse":true},"axis":null},"y2":{"datum":3.43}}},
{"data":{"values":[{}]},"mark":{"type":"text","align":"left","text":"+CII"},"encoding":{"x":{"datum":8.0,"type":"quantitative","scale":{"domain":[0,12.5],"nice":false,"zero":false},"axis":null},"y":{"datum":0.52,"type":"quantitative","scale":{"domain":[-0.5,3.5],"nice":false,"zero":false,"reverse":true},"axis":null}}},
{"data":{"values":[{}]},"mark":{"type":"text","align":"left","text":"+αCD3"},"encoding":{"x":{"datum":8.0,"type":"quantitative","scale":{"domain":[0,12.5],"nice":false,"zero":false},"axis":null},"y":{"datum":2.55,"type":"quantitative","scale":{"domain":[-0.5,3.5],"nice":false,"zero":false,"reverse":true},"axis":null}}}
]}
]},
{"width":11,"height":1,"mark":"point"},
{"spacing":0,"bounds":"flush","vconcat":[
{"width":1,"height":213,"mark":"point"},
{"width":114,"height":91,"view":{"stroke":"black"},
"data":{"values":[{"c":"CD4","g":"control","v":63,"hi":68},{"c":"CD4","g":"AIQ","v":25,"hi":27,"sy":31},{"c":"IFNγ","g":"control","v":54,"hi":60},{"c":"IFNγ","g":"AIQ","v":17,"hi":20,"sy":23},{"c":"IL-4","g":"control","v":5,"hi":7},{"c":"IL-4","g":"AIQ","v":5,"hi":8},{"c":"IL-10","g":"control","v":2,"hi":4},{"c":"IL-10","g":"AIQ","v":3,"hi":5}]},
"encoding":{"x":{"field":"c","type":"nominal","sort":["CD4","IFNγ","IL-4","IL-10"],"scale":{"paddingInner":0.33,"paddingOuter":0.135,"align":0.78},"axis":{"labelAngle":-90,"title":null,"ticks":false,"labelPadding":4}},"xOffset":{"field":"g","type":"nominal","sort":["control","AIQ"],"scale":{"paddingInner":0,"paddingOuter":0}}},
"layer":[
{"mark":{"type":"bar","stroke":"black","strokeWidth":1},"encoding":{"y":{"field":"v","type":"quantitative","scale":{"domain":[0,76],"nice":false},"axis":{"values":[0,20,40,60],"title":"Synovial T cells (x10⁵)","titlePadding":7}},"fill":{"field":"g","type":"nominal","sort":["control","AIQ"],"scale":{"domain":["control","AIQ"],"range":["black","white"]},"legend":{"orient":"none","legendX":49,"legendY":212,"title":null,"symbolType":"M-2.4,-0.9H2.4V0.9H-2.4Z","symbolSize":100,"symbolStrokeColor":"black","symbolStrokeWidth":1,"padding":0,"rowPadding":1,"labelOffset":11}}}},
{"mark":{"type":"rule","color":"black"},"encoding":{"y":{"field":"v","type":"quantitative","scale":{"domain":[0,76],"nice":false}},"y2":{"field":"hi"}}},
{"mark":{"type":"tick","orient":"horizontal","size":5,"thickness":1,"color":"black"},"encoding":{"y":{"field":"hi","type":"quantitative","scale":{"domain":[0,76],"nice":false}}}},
{"transform":[{"filter":"isValid(datum.sy)"}],"mark":{"type":"text","text":"*","dy":3},"encoding":{"y":{"field":"sy","type":"quantitative","scale":{"domain":[0,76],"nice":false}}}}
]}
]},
{"width":9,"height":1,"mark":"point"},
{"spacing":0,"bounds":"flush","vconcat":[
{"width":1,"height":87,"mark":"point"},
{"width":92,"height":85,"view":{"stroke":"black"},
"data":{"values":[{"d":0.1,"g":"cc","v":0.28},{"d":0.5,"g":"cc","v":0.29},{"d":1,"g":"cc","v":0.52,"lo":0.47,"hi":0.57},{"d":5,"g":"cc","v":1.08,"lo":0.98,"hi":1.18},{"d":10,"g":"cc","v":1.77,"lo":1.65,"hi":1.89},{"d":50,"g":"cc","v":2.1,"lo":1.93,"hi":2.27},{"d":0.1,"g":"ca","v":0.25},{"d":0.5,"g":"ca","v":0.28},{"d":1,"g":"ca","v":0.47},{"d":5,"g":"ca","v":0.86,"lo":0.8,"hi":0.92},{"d":10,"g":"ca","v":1.34,"lo":1.24,"hi":1.44},{"d":50,"g":"ca","v":1.53,"lo":1.41,"hi":1.65},{"d":5,"g":"tc","v":1.62,"lo":1.47,"hi":1.77},{"d":5,"g":"ta","v":1.45,"lo":1.33,"hi":1.57},{"d":11.9,"sy":1.0},{"d":60,"sy":1.1}]},
"encoding":{"x":{"field":"d","type":"quantitative","scale":{"type":"log","domain":[0.065,210],"nice":false},"axis":{"values":[0.1,0.2,0.3,0.4,0.5,0.6,0.7,0.8,0.9,1,2,3,4,5,6,7,8,9,10,20,30,40,50,60,70,80,90,100,200],"labelExpr":"datum.value==0.1?'0':datum.value==1?'1':datum.value==10?'10':datum.value==100?'100':''","tickSize":-3,"labelPadding":0,"title":"[CII] (μg/ml)","titlePadding":2}}},
"layer":[
{"transform":[{"filter":"isValid(datum.hi)"}],"mark":{"type":"rule","color":"black"},"encoding":{"y":{"field":"lo","type":"quantitative","scale":{"domain":[0,2.6],"nice":false},"axis":{"values":[0,1,2],"title":"Proliferation","titlePadding":7}},"y2":{"field":"hi"}}},
{"transform":[{"filter":"isValid(datum.hi)"}],"mark":{"type":"tick","orient":"horizontal","size":6,"thickness":1,"color":"black"},"encoding":{"y":{"field":"hi","type":"quantitative","scale":{"domain":[0,2.6],"nice":false}}}},
{"transform":[{"filter":"isValid(datum.hi)"}],"mark":{"type":"tick","orient":"horizontal","size":6,"thickness":1,"color":"black"},"encoding":{"y":{"field":"lo","type":"quantitative","scale":{"domain":[0,2.6],"nice":false}}}},
{"transform":[{"filter":"datum.g=='cc'||datum.g=='ca'"}],"mark":{"type":"line","color":"black","strokeWidth":1},"encoding":{"y":{"field":"v","type":"quantitative","scale":{"domain":[0,2.6],"nice":false}},"detail":{"field":"g"}}},
{"transform":[{"filter":"isValid(datum.v)"}],"mark":{"type":"point","filled":true,"size":55,"stroke":"black","strokeWidth":1,"opacity":1},"encoding":{"y":{"field":"v","type":"quantitative","scale":{"domain":[0,2.6],"nice":false}},"shape":{"field":"g","type":"nominal","scale":{"domain":["cc","ca","tc","ta"],"range":["circle","circle","triangle-down","triangle-down"]},"legend":null},"fill":{"field":"g","type":"nominal","scale":{"domain":["cc","ca","tc","ta"],"range":["black","white","black","white"]},"legend":null}}},
{"transform":[{"filter":"isValid(datum.sy)"}],"mark":{"type":"text","text":"*","dy":3},"encoding":{"y":{"field":"sy","type":"quantitative","scale":{"domain":[0,2.6],"nice":false}}}}
]}
]}
]
}
